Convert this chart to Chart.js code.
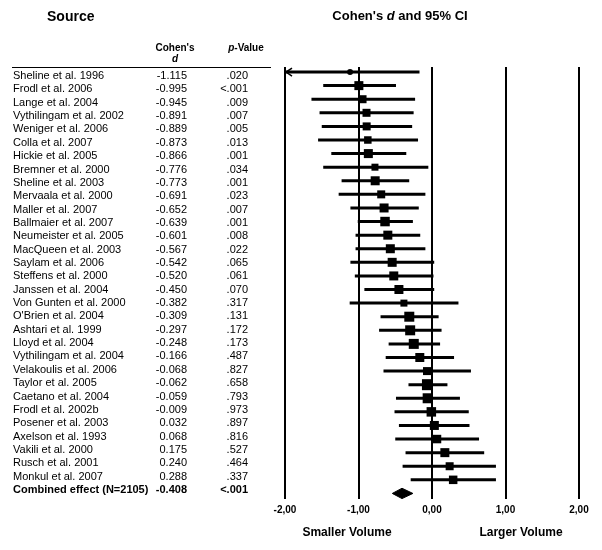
<!DOCTYPE html>
<html>
<head>
<meta charset="utf-8">
<script src="https://cdn.jsdelivr.net/npm/chart.js@4.4.0/dist/chart.umd.min.js"></script>
<style>
  body { margin: 0; background: #fff; }
</style>
</head>
<body>
<canvas id="forest" width="602" height="550"></canvas>
<script>
// Dados dos estudos
const estudos = [
  "Sheline et al. 1996", "Frodl et al. 2006", "Lange et al. 2004", "Vythilingam et al. 2002",
  "Weniger et al. 2006", "Colla et al. 2007", "Hickie et al. 2005", "Bremner et al. 2000",
  "Sheline et al. 2003", "Mervaala et al. 2000", "Maller et al. 2007", "Ballmaier et al. 2007",
  "Neumeister et al. 2005", "MacQueen et al. 2003", "Saylam et al. 2006", "Steffens et al. 2000",
  "Janssen et al. 2004", "Von Gunten et al. 2000", "O'Brien et al. 2004", "Ashtari et al. 1999",
  "Lloyd et al. 2004", "Vythilingam et al. 2004", "Velakoulis et al. 2006", "Taylor et al. 2005",
  "Caetano et al. 2004", "Frodl et al. 2002b", "Posener et al. 2003", "Axelson et al. 1993",
  "Vakili et al. 2000", "Rusch et al. 2001", "Monkul et al. 2007"
];
const cohenD = [
  -1.115, -0.995, -0.945, -0.891, -0.889, -0.873, -0.866, -0.776, -0.773, -0.691, -0.652,
  -0.639, -0.601, -0.567, -0.542, -0.520, -0.450, -0.382, -0.309, -0.297, -0.248, -0.166,
  -0.068, -0.062, -0.059, -0.009, 0.032, 0.068, 0.175, 0.240, 0.288
];
const pValor = [
  ".020", "<.001", ".009", ".007", ".005", ".013", ".001", ".034", ".001", ".023", ".007",
  ".001", ".008", ".022", ".065", ".061", ".070", ".317", ".131", ".172", ".173", ".487",
  ".827", ".658", ".793", ".973", ".897", ".816", ".527", ".464", ".337"
];
// limites do IC 95%
const ciInf = [
  -2.06, -1.48, -1.64, -1.53, -1.50, -1.55, -1.37, -1.48, -1.23, -1.27, -1.11,
  -1.01, -1.04, -1.04, -1.11, -1.05, -0.92, -1.12, -0.70, -0.72, -0.59, -0.63,
  -0.66, -0.32, -0.49, -0.51, -0.45, -0.50, -0.36, -0.40, -0.29
];
const ciSup = [
  -0.17, -0.49, -0.23, -0.25, -0.27, -0.19, -0.35, -0.05, -0.31, -0.09, -0.18,
  -0.26, -0.16, -0.09, 0.03, 0.02, 0.03, 0.36, 0.09, 0.13, 0.11, 0.30,
  0.53, 0.21, 0.38, 0.50, 0.51, 0.64, 0.71, 0.87, 0.87
];
// peso relativo de cada estudo (tamanho do marcador)
const pesos = [
  0.6, 0.9, 0.8, 0.8, 0.8, 0.75, 0.9, 0.7, 0.9, 0.8, 0.9,
  0.95, 0.9, 0.9, 0.9, 0.9, 0.9, 0.7, 1.0, 1.0, 1.0, 0.9,
  0.8, 1.1, 1.0, 0.95, 0.9, 0.85, 0.9, 0.8, 0.85
];

const combinadoNome = "Combined effect (N=2105)";
const combinadoD = -0.408;
const combinadoP = "<.001";
const combinadoCI = [-0.54, -0.26];

const xTicks = [-2, -1, 0, 1, 2];
const tickLabels = ["-2,00", "-1,00", "0,00", "1,00", "2,00"];

const fonte = "'Liberation Sans', Arial, sans-serif";
const nLinhas = estudos.length; // linha do efeito combinado

// Linhas do intervalo de confiança
const linhasIC = estudos.map((nome, i) => ({
  type: "line",
  data: [{ x: ciInf[i], y: i }, { x: ciSup[i], y: i }],
  borderColor: "#000",
  borderWidth: 3,
  pointRadius: 0,
  clip: 0
}));

// Losango do efeito combinado
const losango = {
  type: "line",
  data: [
    { x: combinadoCI[0], y: nLinhas },
    { x: combinadoD, y: nLinhas - 0.38 },
    { x: combinadoCI[1], y: nLinhas },
    { x: combinadoD, y: nLinhas + 0.38 },
    { x: combinadoCI[0], y: nLinhas }
  ],
  borderColor: "#000",
  backgroundColor: "#000",
  borderWidth: 1,
  fill: "shape",
  tension: 0,
  pointRadius: 0
};

// Marcadores dos estudos
const pontos = {
  type: "scatter",
  data: cohenD.map((d, i) => ({ x: d, y: i })),
  pointStyle: cohenD.map((d, i) => i === 0 ? "circle" : "rect"),
  pointRadius: pesos.map((w, i) => i === 0 ? w * 5 : w * 10 / 1.414),
  backgroundColor: "#000",
  borderColor: "#000",
  borderWidth: 0
};

function textoMisto(ctx, partes, cx, cy) {
  let total = 0;
  partes.forEach(p => { ctx.font = p.f; total += ctx.measureText(p.t).width; });
  let x = cx - total / 2;
  ctx.textAlign = "left";
  partes.forEach(p => {
    ctx.font = p.f;
    ctx.fillText(p.t, x, cy);
    x += ctx.measureText(p.t).width;
  });
}

// Textos da tabela e rótulos
const textoTabela = {
  id: "textoTabela",
  afterDraw(chart) {
    const ctx = chart.ctx;
    const ys = chart.scales.y;
    const xs = chart.scales.x;
    ctx.save();
    ctx.fillStyle = "#000";
    ctx.strokeStyle = "#000";
    ctx.textBaseline = "middle";

    ctx.font = "bold 14px " + fonte;
    ctx.textAlign = "left";
    ctx.fillText("Source", 47, 17);

    textoMisto(ctx, [
      { t: "Cohen's ", f: "bold 13px " + fonte },
      { t: "d", f: "italic bold 13px " + fonte },
      { t: " and 95% CI", f: "bold 13px " + fonte }
    ], 400, 16);

    ctx.font = "bold 10px " + fonte;
    ctx.textAlign = "center";
    ctx.fillText("Cohen's", 175, 48);
    ctx.font = "italic bold 10px " + fonte;
    ctx.fillText("d", 175, 59);
    textoMisto(ctx, [
      { t: "p", f: "italic bold 10px " + fonte },
      { t: "-Value", f: "bold 10px " + fonte }
    ], 246, 48);

    ctx.lineWidth = 1.2;
    ctx.beginPath();
    ctx.moveTo(12, 67.5);
    ctx.lineTo(271, 67.5);
    ctx.stroke();

    // linhas de texto da tabela (um pouco mais juntas que as marcas)
    const tTopo = 76, tPasso = (490 - 76) / nLinhas;
    ctx.font = "11px " + fonte;
    estudos.forEach((nome, i) => {
      const py = tTopo + i * tPasso;
      ctx.textAlign = "left";
      ctx.fillText(nome, 13, py);
      ctx.textAlign = "right";
      ctx.fillText(cohenD[i].toFixed(3), 187, py);
      ctx.fillText(pValor[i], 248, py);
    });
    const pyC = tTopo + nLinhas * tPasso;
    ctx.font = "bold 11px " + fonte;
    ctx.textAlign = "left";
    ctx.fillText(combinadoNome, 13, pyC);
    ctx.textAlign = "right";
    ctx.fillText(combinadoD.toFixed(3), 187, pyC);
    ctx.fillText(combinadoP, 248, pyC);

    // seta do IC truncado
    const ax = xs.getPixelForValue(xs.min);
    const ay = ys.getPixelForValue(0);
    ctx.lineWidth = 1.5;
    ctx.beginPath();
    ctx.moveTo(ax + 7, ay - 4);
    ctx.lineTo(ax + 1, ay);
    ctx.lineTo(ax + 7, ay + 4);
    ctx.stroke();

    ctx.font = "bold 12px " + fonte;
    ctx.textAlign = "center";
    ctx.fillText("Smaller Volume", 347, 533);
    ctx.fillText("Larger Volume", 521, 533);
    ctx.restore();
  }
};

new Chart(document.getElementById("forest"), {
  type: "scatter",
  data: { datasets: [...linhasIC, losango, pontos] },
  options: {
    responsive: false,
    devicePixelRatio: 1,
    animation: false,
    layout: { padding: { left: 285, right: 23, top: 67, bottom: 29 } },
    plugins: { legend: { display: false }, tooltip: { enabled: false } },
    scales: {
      x: {
        type: "linear",
        min: -2,
        max: 2,
        afterBuildTicks: axis => { axis.ticks = xTicks.map(v => ({ value: v })); },
        ticks: {
          padding: 5,
          color: "#000",
          font: { family: fonte, size: 10, weight: "bold" },
          callback: v => tickLabels[xTicks.indexOf(v)]
        },
        grid: { color: "#000", lineWidth: 2, drawTicks: false },
        border: { display: false }
      },
      y: {
        type: "linear",
        bounds: "data",
        min: -0.37,
        max: 31.41,
        reverse: true,
        display: false
      }
    }
  },
  plugins: [textoTabela]
});
</script>
</body>
</html>
